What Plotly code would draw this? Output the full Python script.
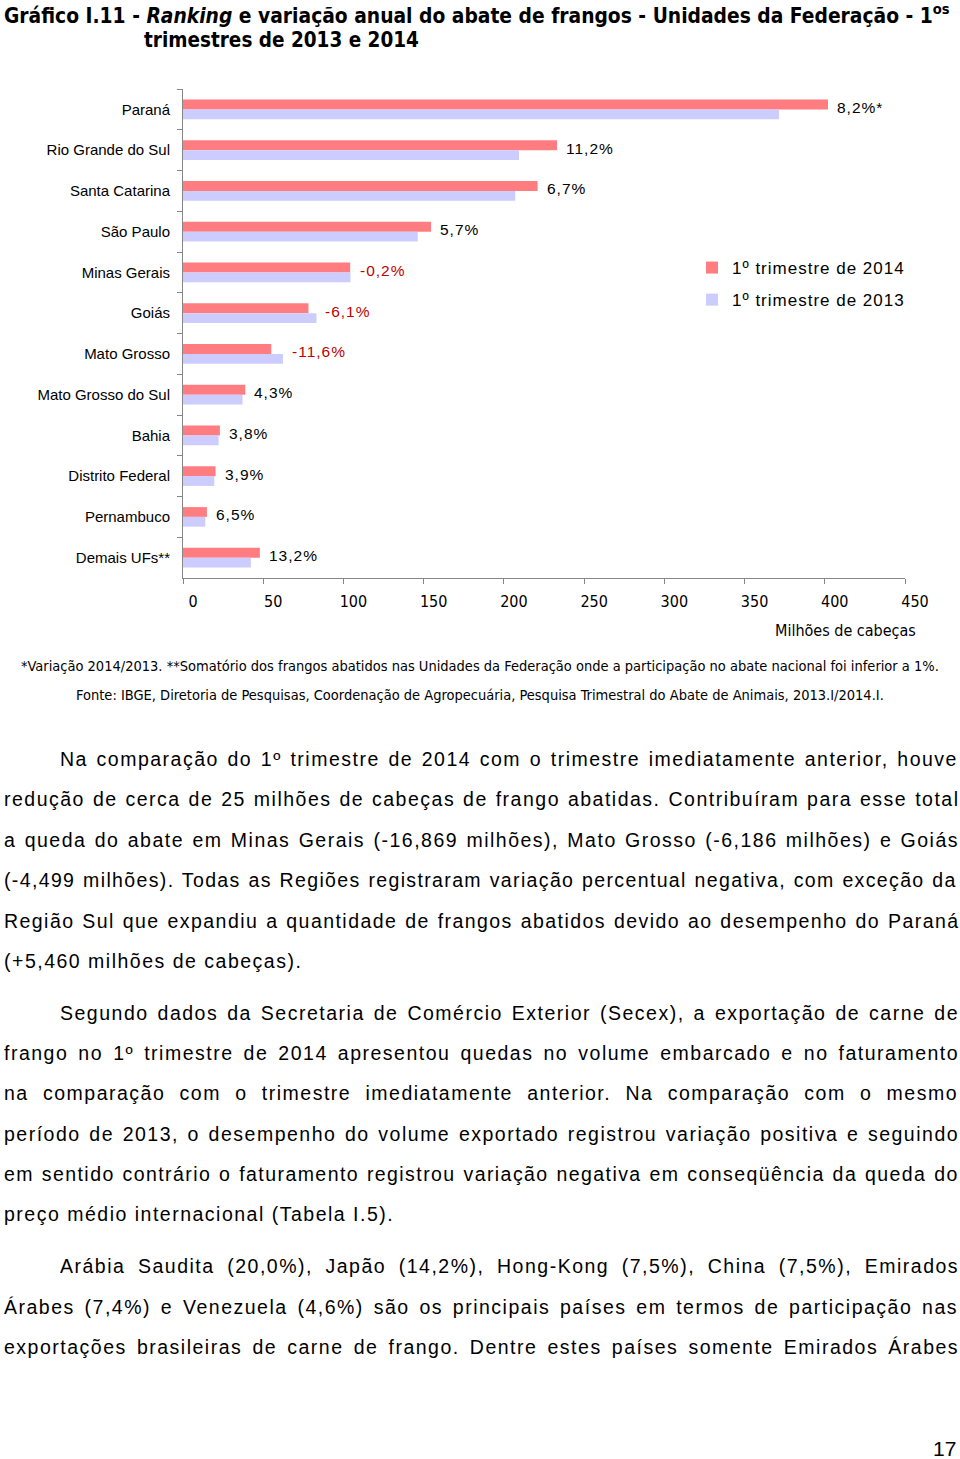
import unicodedata
import plotly.graph_objects as go

# ---------------- data ----------------
estados = ["Paraná", "Rio Grande do Sul", "Santa Catarina", "São Paulo", "Minas Gerais",
           "Goiás", "Mato Grosso", "Mato Grosso do Sul", "Bahia", "Distrito Federal",
           "Pernambuco", "Demais UFs**"]
abate_2014 = [402.0, 233.1, 221.0, 154.6, 104.2, 78.2, 55.0, 38.8, 23.0, 20.3, 14.9, 47.9]
abate_2013 = [371.5, 209.4, 207.1, 146.3, 104.4, 83.2, 62.3, 37.1, 22.2, 19.5, 13.9, 42.3]
variacao = ["8,2%*", "11,2%", "6,7%", "5,7%", "-0,2%", "-6,1%", "-11,6%",
            "4,3%", "3,8%", "3,9%", "6,5%", "13,2%"]
x_ticks = [0, 50, 100, 150, 200, 250, 300, 350, 400, 450]
serie_nomes = ["1º trimestre de 2014", "1º trimestre de 2013"]

titulo_1 = "Gráfico I.11 - <i>Ranking</i> e variação anual do abate de frangos - Unidades da Federação - 1<sup>os</sup>"
titulo_2 = "trimestres de 2013 e 2014"
eixo_x_titulo = "Milhões de cabeças"
nota_1 = "*Variação 2014/2013. **Somatório dos frangos abatidos nas Unidades da Federação onde a participação no abate nacional foi inferior a 1%."
nota_2 = "Fonte: IBGE, Diretoria de Pesquisas, Coordenação de Agropecuária, Pesquisa Trimestral do Abate de Animais, 2013.I/2014.I."

paragrafo_1 = [
    "Na comparação do 1º trimestre de 2014 com o trimestre imediatamente anterior, houve",
    "redução de cerca de 25 milhões de cabeças de frango abatidas. Contribuíram para esse total",
    "a queda do abate em Minas Gerais (-16,869 milhões), Mato Grosso (-6,186 milhões) e Goiás",
    "(-4,499 milhões). Todas as Regiões registraram variação percentual negativa, com exceção da",
    "Região Sul que expandiu a quantidade de frangos abatidos devido ao desempenho do Paraná",
    "(+5,460 milhões de cabeças).",
]
paragrafo_2 = [
    "Segundo dados da Secretaria de Comércio Exterior (Secex), a exportação de carne de",
    "frango no 1º trimestre de 2014 apresentou quedas no volume embarcado e no faturamento",
    "na comparação com o trimestre imediatamente anterior. Na comparação com o mesmo",
    "período de 2013, o desempenho do volume exportado registrou variação positiva e seguindo",
    "em sentido contrário o faturamento registrou variação negativa em conseqüência da queda do",
    "preço médio internacional (Tabela I.5).",
]
paragrafo_3 = [
    "Arábia Saudita (20,0%), Japão (14,2%), Hong-Kong (7,5%), China (7,5%), Emirados",
    "Árabes (7,4%) e Venezuela (4,6%) são os principais países em termos de participação nas",
    "exportações brasileiras de carne de frango. Dentre estes países somente Emirados Árabes",
]
pagina = "17"

# ---------------- layout helpers ----------------
W, H = 960, 1459
ML, MR, MT, MB = 183, 55, 89, 881
PW, PH = W - ML - MR, H - MT - MB


def px_x(px):
    return (px - ML) / PW


def px_y(py):
    return (H - MB - py) / PH


ARIAL_W = {
    ' ': 278, '!': 278, '%': 889, '(': 333, ')': 333, '*': 389, '+': 584, ',': 278,
    '-': 333, '.': 278, '/': 278, ':': 278, 'º': 365, 'í': 278,
    'A': 667, 'B': 667, 'C': 722, 'D': 722, 'E': 667, 'F': 611, 'G': 778, 'H': 722,
    'I': 278, 'J': 500, 'K': 667, 'L': 556, 'M': 833, 'N': 722, 'O': 778, 'P': 667,
    'Q': 778, 'R': 722, 'S': 667, 'T': 611, 'U': 722, 'V': 667, 'W': 944, 'X': 667,
    'Y': 667, 'Z': 611,
    'a': 556, 'b': 556, 'c': 500, 'd': 556, 'e': 556, 'f': 278, 'g': 556, 'h': 556,
    'i': 222, 'j': 222, 'k': 500, 'l': 222, 'm': 833, 'n': 556, 'o': 556, 'p': 556,
    'q': 556, 'r': 333, 's': 500, 't': 278, 'u': 556, 'v': 500, 'w': 722, 'x': 500,
    'y': 500, 'z': 500,
}
for d in "0123456789":
    ARIAL_W[d] = 556


def glyph_width(s, fs):
    tot = 0
    for ch in s:
        w = ARIAL_W.get(ch)
        if w is None:
            base = unicodedata.normalize('NFD', ch)[0]
            w = ARIAL_W.get(base, 556)
        tot += w
    return tot * fs / 1000.0


BODY_FONT = "Liberation Sans, Arial, Helvetica, sans-serif"
NARROW_FONT = "Liberation Sans Narrow, Arial Narrow, DejaVu Sans Condensed, sans-serif"
BODY_FS = 19.5
BODY_LS = 1.5
WS_MIN = 1.0
LEFT, RIGHT, INDENT = 3, 958, 59

annotations = []


def body_paragraph(lines, y0, step, justify_last):
    for i, line in enumerate(lines):
        x0 = INDENT if i == 0 else LEFT
        last = (i == len(lines) - 1)
        ls, ws = BODY_LS, 0.0
        if (not last) or justify_last:
            glyph = glyph_width(line, BODY_FS)
            n = len(line)
            nsp = line.count(' ')
            target = RIGHT - x0
            ws = (target - glyph - ls * n) / nsp
            if ws < WS_MIN:
                ws = WS_MIN
                ls = (target - glyph - nsp * ws) / n
        txt = "<span style='letter-spacing:%.2fpx;word-spacing:%.2fpx'>%s</span>" % (ls, ws, line)
        annotations.append(dict(
            text=txt, x=px_x(x0), y=px_y(y0 + i * step), xref="paper", yref="paper",
            xanchor="left", yanchor="middle", showarrow=False, borderpad=0,
            font=dict(family=BODY_FONT, size=BODY_FS, color="#000000"),
        ))


body_paragraph(paragrafo_1, 759, 40.4, False)
body_paragraph(paragrafo_2, 1013, 40.2, False)
body_paragraph(paragrafo_3, 1266, 40.5, True)

# title
annotations.append(dict(text="<b>" + titulo_1 + "</b>", x=px_x(3), y=px_y(14), xref="paper", yref="paper",
                        xanchor="left", yanchor="middle", showarrow=False, borderpad=0,
                        font=dict(family=NARROW_FONT, size=20.8, color="#000000")))
annotations.append(dict(text="<b>" + titulo_2 + "</b>", x=px_x(143), y=px_y(40), xref="paper", yref="paper",
                        xanchor="left", yanchor="middle", showarrow=False, borderpad=0,
                        font=dict(family=NARROW_FONT, size=20.5, color="#000000")))
# axis title
annotations.append(dict(text=eixo_x_titulo, x=px_x(917), y=px_y(630), xref="paper", yref="paper",
                        xanchor="right", yanchor="middle", showarrow=False, borderpad=0,
                        font=dict(family=NARROW_FONT, size=16, color="#000000")))
# notes
annotations.append(dict(text=nota_1, x=px_x(480), y=px_y(666), xref="paper", yref="paper",
                        xanchor="center", yanchor="middle", showarrow=False, borderpad=0,
                        font=dict(family=NARROW_FONT, size=14.5, color="#000000")))
annotations.append(dict(text=nota_2, x=px_x(480), y=px_y(695), xref="paper", yref="paper",
                        xanchor="center", yanchor="middle", showarrow=False, borderpad=0,
                        font=dict(family=NARROW_FONT, size=14.5, color="#000000")))
# page number
annotations.append(dict(text=pagina, x=px_x(945), y=px_y(1448), xref="paper", yref="paper",
                        xanchor="center", yanchor="middle", showarrow=False, borderpad=0,
                        font=dict(family=BODY_FONT, size=21, color="#000000")))

# percentage labels
for est, a, b, lab in zip(estados, abate_2014, abate_2013, variacao):
    cor = "#C00000" if lab.startswith("-") else "#000000"
    annotations.append(dict(
        text="<span style='letter-spacing:1px'>%s</span>" % lab,
        x=max(a, b), y=est, xref="x", yref="y", xanchor="left", yanchor="middle",
        xshift=8, yshift=2, showarrow=False, borderpad=0,
        font=dict(family=BODY_FONT, size=15.5, color=cor),
    ))

# ---------------- figure ----------------
fig = go.Figure()
fig.add_trace(go.Bar(
    y=estados, x=abate_2014, orientation="h",
    name="<span style='letter-spacing:1px'>%s</span>" % serie_nomes[0],
    marker=dict(color="#FF7C80", line=dict(width=0)), legendgroup="a",
))
fig.add_trace(go.Bar(
    y=estados, x=abate_2013, orientation="h",
    name="<span style='letter-spacing:1px'>%s</span>" % serie_nomes[1],
    marker=dict(color="#CCCCFF", line=dict(width=0)), legendgroup="b",
))

fig.update_layout(
    width=W, height=H,
    margin=dict(l=ML, r=MR, t=MT, b=MB, pad=0),
    paper_bgcolor="white", plot_bgcolor="white",
    barmode="group", bargap=0.52, bargroupgap=0,
    showlegend=True,
    legend=dict(x=px_x(692), y=px_y(250), xanchor="left", yanchor="top",
                traceorder="grouped", tracegroupgap=7,
                font=dict(family=BODY_FONT, size=17, color="#000000"),
                bgcolor="rgba(0,0,0,0)", borderwidth=0),
    annotations=annotations,
    xaxis=dict(range=[0, 450], tickvals=x_ticks, ticktext=[str(t) for t in x_ticks],
               showgrid=False, zeroline=False, showline=True, linecolor="#868686", linewidth=1,
               ticks="outside", ticklen=5, tickcolor="#868686", tickwidth=1,
               ticklabelshift=10, ticklabelstandoff=4,
               tickfont=dict(family=NARROW_FONT, size=16, color="#000000")),
    yaxis=dict(categoryorder="array", categoryarray=estados, autorange="reversed",
               showgrid=False, zeroline=False, showline=True, linecolor="#868686", linewidth=1,
               ticks="outside", ticklen=5, tickcolor="#868686", tickwidth=1,
               tickson="boundaries", ticklabelstandoff=9,
               tickfont=dict(family=BODY_FONT, size=15, color="#000000")),
)

fig.write_html("out.html")
